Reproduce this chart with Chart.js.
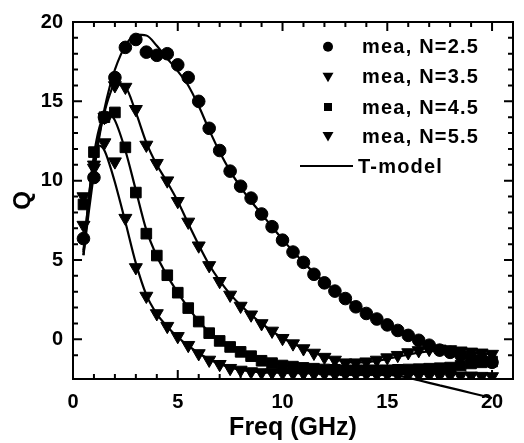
<!DOCTYPE html>
<html>
<head>
<meta charset="utf-8">
<script src="https://cdn.jsdelivr.net/npm/chart.js@4.4.1/dist/chart.umd.min.js"></script>
<style>
  html, body { margin: 0; padding: 0; background: #fff; }
  #wrap { width: 524px; height: 443px; }
</style>
</head>
<body>
<div id="wrap"><canvas id="qChart" width="524" height="443"></canvas></div>
<script>
// measured frequencies (GHz)
const freq = [0.5, 1, 1.5, 2, 2.5, 3, 3.5, 4, 4.5, 5, 5.5, 6, 6.5, 7, 7.5, 8, 8.5, 9, 9.5, 10,
  10.5, 11, 11.5, 12, 12.5, 13, 13.5, 14, 14.5, 15, 15.5, 16, 16.5, 17, 17.5, 18, 18.5, 19, 19.5, 20];

// measured Q
const meaN25 = [6.35, 10.2, 14.0, 16.5, 18.4, 18.9, 18.1, 17.9, 18.0, 17.3, 16.5, 15.0, 13.3, 11.9, 10.6, 9.65, 8.9, 7.9, 7.1, 6.25,
  5.5, 4.85, 4.1, 3.56, 3.04, 2.57, 2.05, 1.63, 1.28, 0.91, 0.56, 0.25, -0.06, -0.37, -0.68, -0.82, -0.97, -1.12, -1.25, -1.45];
const meaN35 = [7.2, 10.8, 14.0, 16.0, 15.9, 14.5, 12.25, 11.1, 10.0, 8.7, 7.4, 5.9, 4.66, 3.66, 2.8, 2.1, 1.55, 1.0, 0.53, 0.07,
  -0.27, -0.58, -0.86, -1.12, -1.3, -1.47, -1.47, -1.41, -1.3, -1.15, -1.0, -0.83, -0.7, -0.62, -0.6, -0.64, -0.72, -0.79, -0.85, -0.93];
const meaN45 = [8.5, 11.8, 14.0, 14.3, 12.1, 9.25, 6.66, 5.28, 4.04, 2.94, 1.97, 1.12, 0.39, -0.1, -0.48, -0.79, -1.06, -1.35, -1.5, -1.65,
  -1.72, -1.8, -1.85, -1.9, -1.92, -1.95, -1.95, -1.95, -1.95, -1.95, -1.92, -1.9, -1.88, -1.85, -1.82, -1.78, -1.65, -1.52, -1.45, -1.4];
const meaN55 = [9.0, 11.0, 12.4, 11.2, 7.64, 4.53, 2.73, 1.63, 0.83, 0.19, -0.37, -0.89, -1.3, -1.57, -1.82, -1.93, -2.03, -2.09, -2.1, -2.12,
  -2.15, -2.15, -2.18, -2.18, -2.2, -2.2, -2.2, -2.2, -2.22, -2.22, -2.25, -2.25, -2.25, -2.27, -2.28, -2.28, -2.3, -2.3, -2.32, -2.34];

// T-model curves
const modelFreq = [0.5, 0.75, 1, 1.25, 1.5, 1.75, 2, 2.5, 3, 3.5, 4, 4.5, 5, 5.5, 6, 6.5, 7, 7.5, 8, 8.5, 9, 9.5, 10,
  10.5, 11, 11.5, 12, 12.5, 13, 13.5, 14, 14.5, 15, 15.5, 16, 16.5, 17, 17.5, 18, 18.5, 19, 19.5, 20];
const modelN25 = [5.3, 8.0, 10.5, 12.7, 14.5, 15.9, 17.0, 18.5, 19.2, 19.15, 18.5, 17.7, 16.9, 16.0, 14.7, 13.2, 11.8, 10.6, 9.6, 8.7, 7.9, 7.1, 6.3,
  5.55, 4.85, 4.2, 3.6, 3.08, 2.6, 2.12, 1.7, 1.3, 0.92, 0.57, 0.25, -0.05, -0.33, -0.58, -0.8, -0.98, -1.12, -1.23, -1.32];
const modelN35 = [5.5, 8.4, 11.0, 12.9, 14.3, 15.4, 16.1, 15.9, 14.3, 12.4, 11.0, 9.9, 8.7, 7.3, 5.95, 4.7, 3.7, 2.85, 2.15, 1.55, 1.0, 0.52, 0.1,
  -0.27, -0.58, -0.85, -1.08, -1.27, -1.4, -1.46, -1.44, -1.36, -1.24, -1.1, -0.96, -0.84, -0.76, -0.72, -0.72, -0.76, -0.82, -0.88, -0.94];
const modelN45 = [5.6, 8.8, 11.6, 13.3, 14.1, 14.2, 13.8, 11.9, 9.4, 6.9, 5.25, 4.0, 2.95, 2.0, 1.15, 0.45, -0.08, -0.48, -0.8, -1.07, -1.3, -1.48, -1.62,
  -1.73, -1.82, -1.88, -1.93, -1.96, -1.98, -2.0, -2.0, -2.0, -1.99, -1.97, -1.94, -1.9, -1.85, -1.78, -1.7, -1.62, -1.54, -1.47, -1.4];
const modelN55 = [5.3, 8.9, 11.3, 12.2, 11.9, 11.0, 9.9, 7.4, 4.8, 2.8, 1.6, 0.8, 0.15, -0.4, -0.87, -1.25, -1.55, -1.77, -1.92, -2.02, -2.08, -2.1, -2.12,
  -2.13, -2.13, -2.13, -2.13, -2.13, -2.14, -2.16, -2.18, -2.18, -2.22, -2.3, -2.42, -2.58, -2.74, -2.9, -3.06, -3.22, -3.38, -3.54, -3.7];

const FONT = "'Liberation Sans', Arial, sans-serif";

function pts(xs, ys) {
  return xs.map((x, i) => ({ x: x, y: ys[i] }));
}

function markerSet(label, ys, style, radius, rotation) {
  return {
    label: label,
    data: pts(freq, ys),
    showLine: false,
    pointStyle: style,
    pointRadius: radius,
    pointRotation: rotation,
    pointBackgroundColor: '#000',
    pointBorderColor: '#000',
    pointBorderWidth: 1
  };
}

function modelSet(ys, legend) {
  return {
    label: legend ? 'T-model' : '',
    data: pts(modelFreq, ys),
    showLine: true,
    borderColor: '#000',
    borderWidth: 2.2,
    pointRadius: 0,
    cubicInterpolationMode: 'monotone',
    fill: false
  };
}

// inward ticks on all four sides plus the frame
const framePlugin = {
  id: 'frame',
  afterDatasetsDraw(chart) {
    const { ctx, chartArea: a, scales } = chart;
    ctx.save();
    ctx.strokeStyle = '#000';
    ctx.lineWidth = 2;
    ctx.beginPath();
    scales.x.ticks.forEach(t => {
      if (!Number.isInteger(t.value)) return;
      const px = scales.x.getPixelForValue(t.value);
      const len = t.value % 5 === 0 ? 9 : 5;
      ctx.moveTo(px, a.bottom); ctx.lineTo(px, a.bottom - len);
      ctx.moveTo(px, a.top); ctx.lineTo(px, a.top + len);
    });
    scales.y.ticks.forEach(t => {
      if (!Number.isInteger(t.value)) return;
      const py = scales.y.getPixelForValue(t.value);
      const len = t.value % 5 === 0 ? 9 : 5;
      ctx.moveTo(a.left, py); ctx.lineTo(a.left + len, py);
      ctx.moveTo(a.right, py); ctx.lineTo(a.right - len, py);
    });
    ctx.stroke();
    ctx.strokeRect(a.left, a.top, a.right - a.left, a.bottom - a.top);
    ctx.restore();
  }
};

// legend drawn inside the plot, top right
const legendPlugin = {
  id: 'innerLegend',
  afterDraw(chart) {
    const ctx = chart.ctx;
    const rows = [46.7, 76.7, 107, 136, 166];
    const mx = 328;
    ctx.save();
    ctx.fillStyle = '#000';
    ctx.strokeStyle = '#000';
    ctx.font = 'bold 20px ' + FONT;
    ctx.textBaseline = 'middle';
    ctx.letterSpacing = '1.2px';
    const sets = chart.data.datasets;
    for (let i = 0; i < 4; i++) {
      const y = rows[i];
      const st = sets[i].pointStyle;
      ctx.beginPath();
      if (st === 'circle') {
        ctx.arc(mx, y, 5, 0, Math.PI * 2);
      } else if (st === 'rect') {
        ctx.rect(mx - 4, y - 4, 8, 8);
      } else {
        ctx.moveTo(mx - 5.5, y - 4);
        ctx.lineTo(mx + 5.5, y - 4);
        ctx.lineTo(mx, y + 5.5);
        ctx.closePath();
      }
      ctx.fill();
      ctx.fillText(sets[i].label, 362, y + 1);
    }
    const y = rows[4];
    ctx.lineWidth = 2;
    ctx.beginPath();
    ctx.moveTo(300, y); ctx.lineTo(353, y);
    ctx.stroke();
    ctx.fillText(sets[4].label, 358, y + 1);
    ctx.restore();
  }
};

const datasets = [
  markerSet('mea, N=2.5', meaN25, 'circle', 6.3, 0),
  markerSet('mea, N=3.5', meaN35, 'triangle', 7.5, 180),
  markerSet('mea, N=4.5', meaN45, 'rect', 7.5, 0),
  markerSet('mea, N=5.5', meaN55, 'triangle', 7.5, 180),
  modelSet(modelN25, true),
  modelSet(modelN35, false),
  modelSet(modelN45, false),
  Object.assign(modelSet(modelN55, false), { clip: false })
];

const ctx = document.getElementById('qChart').getContext('2d');
new Chart(ctx, {
  type: 'scatter',
  data: { datasets: datasets },
  options: {
    responsive: false,
    animation: false,
    layout: { padding: { top: 17, right: 5, left: 0, bottom: 0 } },
    plugins: {
      legend: { display: false },
      tooltip: { enabled: false }
    },
    scales: {
      x: {
        type: 'linear',
        min: 0,
        max: 21,
        afterFit: s => { s.height = 64; },
        grid: { display: false, drawTicks: false },
        border: { display: false },
        ticks: {
          stepSize: 1,
          autoSkip: false,
          maxRotation: 0,
          minRotation: 0,
          padding: 11,
          color: '#000',
          font: { family: FONT, size: 20, weight: 'bold' },
          callback: v => (v % 5 === 0 && v <= 20 ? String(v) : '')
        },
        title: {
          display: true,
          text: 'Freq (GHz)',
          color: '#000',
          font: { family: FONT, size: 25, weight: 'bold' },
          padding: { top: 9, bottom: 0 }
        }
      },
      y: {
        type: 'linear',
        min: -2.5,
        max: 20,
        afterFit: s => { s.width = 73; },
        grid: { display: false, drawTicks: false },
        border: { display: false },
        ticks: {
          stepSize: 1,
          autoSkip: false,
          padding: 10,
          color: '#000',
          font: { family: FONT, size: 20, weight: 'bold' },
          callback: v => (v % 5 === 0 ? String(v) : '')
        },
        title: {
          display: true,
          text: 'Q',
          color: '#000',
          font: { family: FONT, size: 24, weight: 'bold' },
          padding: { top: 9, bottom: 0 }
        }
      }
    }
  },
  plugins: [framePlugin, legendPlugin]
});
</script>
</body>
</html>
